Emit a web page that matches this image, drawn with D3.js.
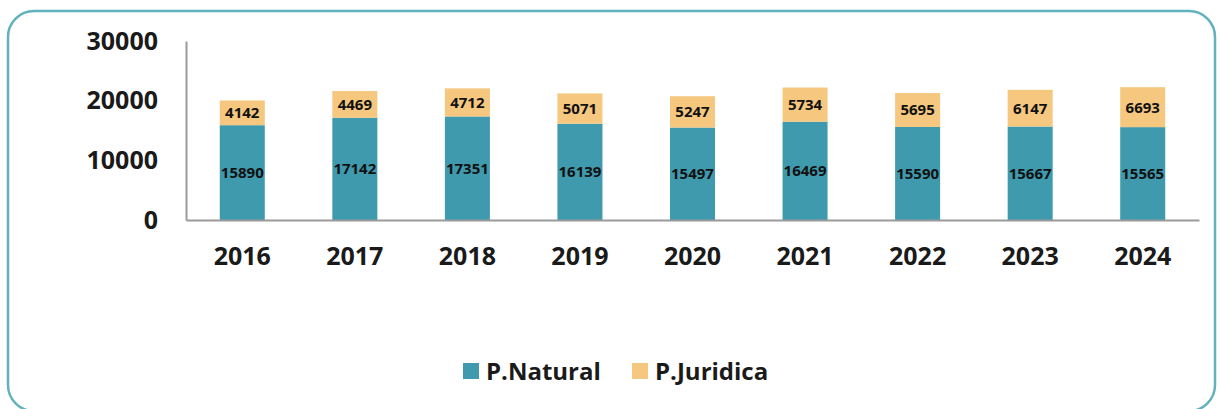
<!DOCTYPE html>
<html>
<head>
<meta charset="utf-8">
<script src="https://cdn.jsdelivr.net/npm/d3@7"></script>
<style>
  body { margin: 0; background: #fff; }
  svg { display: block; font-family: "Open Sans", Lato, sans-serif; }
  .axis path { stroke: #9a9a9a; stroke-width: 2; }
  .axis line { display: none; }
  .axis text { font-family: "Open Sans", Lato, sans-serif; font-weight: 700; fill: #1a1a1a; }
</style>
</head>
<body>
<svg class="chart" width="1219" height="409"></svg>
<script>
var years = ["2016", "2017", "2018", "2019", "2020", "2021", "2022", "2023", "2024"];
var natural = [15890, 17142, 17351, 16139, 15497, 16469, 15590, 15667, 15565];
var juridica = [4142, 4469, 4712, 5071, 5247, 5734, 5695, 6147, 6693];
var seriesNames = ["P.Natural", "P.Juridica"];
var yTicks = [0, 10000, 20000, 30000];
var colors = ["#3f9aae", "#f5c77f"];

var svg = d3.select("svg.chart");

// frame
svg.append("rect")
    .attr("x", 8)
    .attr("y", 11)
    .attr("width", 1207)
    .attr("height", 400)
    .attr("rx", 26)
    .attr("ry", 26)
    .attr("fill", "none")
    .attr("stroke", "#62b1bf")
    .attr("stroke-width", 2.5);

var margin = {top: 41, left: 186, right: 20, bottom: 189};
var width = 1199 - margin.left;
var height = 220 - margin.top;

var x = d3.scaleBand().domain(years).range([0, width])
    .paddingInner(0.6).paddingOuter(0.3);
var y = d3.scaleLinear().domain([0, 30000]).range([height, 0]);

var g = svg.append("g")
    .attr("transform", "translate(" + margin.left + "," + margin.top + ")");

var table = years.map(function(yr, i) {
    return {year: yr, natural: natural[i], juridica: juridica[i]};
});
var stack = d3.stack().keys(["natural", "juridica"])(table);

var layers = g.selectAll(".layer")
    .data(stack)
    .enter().append("g")
    .attr("class", "layer")
    .attr("fill", function(d, i) { return colors[i]; });

layers.selectAll("rect")
    .data(function(d) { return d; })
    .enter().append("rect")
    .attr("x", function(d) { return x(d.data.year); })
    .attr("y", function(d) { return y(d[1]); })
    .attr("width", x.bandwidth())
    .attr("height", function(d) { return y(d[0]) - y(d[1]); });

layers.selectAll("text")
    .data(function(d) { return d; })
    .enter().append("text")
    .attr("x", function(d) { return x(d.data.year) + x.bandwidth() / 2; })
    .attr("y", function(d) { return (y(d[0]) + y(d[1])) / 2; })
    .attr("dy", "0.36em")
    .attr("text-anchor", "middle")
    .attr("fill", "#111")
    .style("font-size", "15px")
    .style("font-weight", "700")
    .text(function(d) { return d[1] - d[0]; });

g.append("g")
    .attr("class", "axis axis-x")
    .attr("transform", "translate(0," + height + ")")
    .call(d3.axisBottom(x).tickSize(0).tickSizeOuter(0).tickPadding(27))
    .selectAll("text")
    .style("font-size", "25px");

g.append("g")
    .attr("class", "axis axis-y")
    .call(d3.axisLeft(y).tickValues(yTicks).tickFormat(d3.format("d"))
        .tickSize(0).tickSizeOuter(0).tickPadding(28))
    .selectAll("text")
    .style("font-size", "25px");

// legend
var legend = svg.append("g")
    .attr("transform", "translate(463,363)");

var legendX = [0, 169];
var item = legend.selectAll(".legend-item")
    .data(seriesNames)
    .enter().append("g")
    .attr("class", "legend-item")
    .attr("transform", function(d, i) { return "translate(" + legendX[i] + ",0)"; });

item.append("rect")
    .attr("width", 16)
    .attr("height", 16)
    .attr("fill", function(d, i) { return colors[i]; });

item.append("text")
    .attr("x", 23)
    .attr("y", 8)
    .attr("dy", "0.36em")
    .attr("fill", "#1a1a1a")
    .style("font-size", "24px")
    .style("font-weight", "700")
    .text(function(d) { return d; });
</script>
</body>
</html>
